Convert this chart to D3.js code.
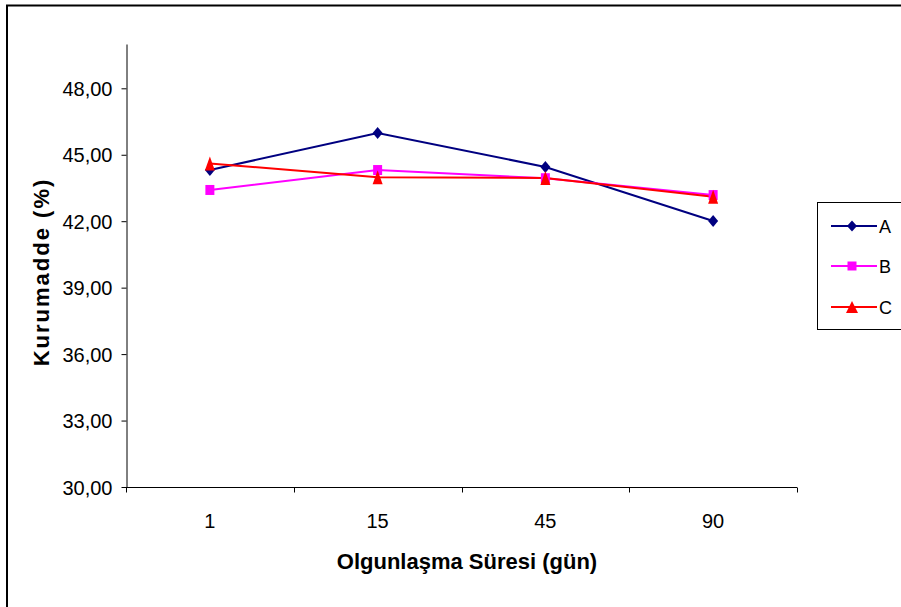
<!DOCTYPE html>
<html>
<head>
<meta charset="utf-8">
<script src="https://cdn.jsdelivr.net/npm/d3@7"></script>
<style>
  html, body { margin: 0; padding: 0; background: #fff; }
  svg { display: block; font-family: "Liberation Sans", Arial, sans-serif; }
</style>
</head>
<body>
<svg id="chart" width="901" height="607"></svg>
<script>
// Ripening time (days) and dry matter (%) for three cheese groups
const categories = ["1", "15", "45", "90"];
const seriesNames = ["A", "B", "C"];
const valuesA = [44.31, 45.98, 44.45, 42.01];
const valuesB = [43.41, 44.31, 43.94, 43.18];
const valuesC = [44.61, 43.98, 43.95, 43.10];
const yTicks = [30, 33, 36, 39, 42, 45, 48];
const colors = ["#000080", "#FF00FF", "#FF0000"];

// marker outlines, w x h box centred on the point
function diamond(w, h) {
  return `M0,${-h / 2}L${w / 2},0L0,${h / 2}L${-w / 2},0Z`;
}
function square(w, h) {
  return `M${-w / 2},${-h / 2}h${w}v${h}h${-w}Z`;
}
function triangle(w, h) {
  return `M0,${-h / 2}L${w / 2},${h / 2}L${-w / 2},${h / 2}Z`;
}

const series = [
  { name: seriesNames[0], values: valuesA, color: colors[0], marker: diamond(10, 12), legendMarker: diamond(10, 11) },
  { name: seriesNames[1], values: valuesB, color: colors[1], marker: square(9, 10), legendMarker: square(9, 9) },
  { name: seriesNames[2], values: valuesC, color: colors[2], marker: triangle(10, 14), legendMarker: triangle(12, 12) }
];

const svg = d3.select("#chart");

// outer frame (only top and left edges fall inside the window)
svg.append("rect")
  .attr("x", 7).attr("y", 5.5)
  .attr("width", 900).attr("height", 610)
  .attr("fill", "none").attr("stroke", "#000").attr("stroke-width", 2);

const plotLeft = 126, plotRight = 797, plotTop = 44, plotBottom = 487;

const x = d3.scaleBand().domain(categories).range([plotLeft, plotRight]);
const y = d3.scaleLinear().domain([30, 50]).range([plotBottom, plotTop]);

const tickFont = "'Liberation Sans Narrow', 'Arial Narrow', 'Liberation Sans', Arial, sans-serif";

// y axis
const yAxis = d3.axisLeft(y).tickValues(yTicks).tickSize(5).tickSizeOuter(0)
  .tickFormat(d => d3.format(".2f")(d).replace(".", ","));
const gy = svg.append("g").attr("transform", `translate(${plotLeft + 0.5},0)`).call(yAxis);
gy.select(".domain").attr("stroke", "#000");
gy.selectAll(".tick line").attr("stroke", "#000");
gy.selectAll(".tick text")
  .attr("font-size", 20).attr("fill", "#000").attr("x", -14).attr("dy", "0.36em")
  .attr("font-family", tickFont);

// x axis with ticks between categories
const gx = svg.append("g").attr("transform", `translate(0,${plotBottom + 0.5})`);
gx.append("line").attr("x1", plotLeft).attr("x2", plotRight).attr("stroke", "#000");
const boundaries = categories.map(c => x(c)).concat([plotRight]);
gx.selectAll("line.tk").data(boundaries).enter().append("line")
  .attr("class", "tk")
  .attr("x1", d => Math.round(d) + 0.5).attr("x2", d => Math.round(d) + 0.5)
  .attr("y1", 0).attr("y2", 5).attr("stroke", "#000");
gx.selectAll("text").data(categories).enter().append("text")
  .attr("x", d => x(d) + x.bandwidth() / 2)
  .attr("y", 40)
  .attr("text-anchor", "middle")
  .attr("font-size", 20)
  .attr("font-family", tickFont)
  .text(d => d);

// axis titles
svg.append("text")
  .attr("x", 467).attr("y", 569)
  .attr("text-anchor", "middle")
  .attr("font-size", 22).attr("font-weight", "bold")
  .text("Olgunlaşma Süresi (gün)");

svg.append("text")
  .attr("transform", "translate(49,272) rotate(-90)")
  .attr("text-anchor", "middle")
  .attr("font-size", 22).attr("font-weight", "bold")
  .attr("letter-spacing", 2)
  .text("Kurumadde (%)");

// lines and markers
const cx = (d, i) => x(categories[i]) + x.bandwidth() / 2;
const line = d3.line().x(cx).y(d => y(d));

series.forEach(s => {
  svg.append("path")
    .datum(s.values)
    .attr("d", line)
    .attr("fill", "none")
    .attr("stroke", s.color)
    .attr("stroke-width", 2);
});

series.forEach(s => {
  svg.append("g").selectAll("path").data(s.values).enter().append("path")
    .attr("d", s.marker)
    .attr("transform", (d, i) => `translate(${cx(d, i)},${y(d)})`)
    .attr("fill", s.color);
});

// legend
const lg = svg.append("g");
lg.append("rect")
  .attr("x", 817.5).attr("y", 202.5).attr("width", 90).attr("height", 127)
  .attr("fill", "#fff").attr("stroke", "#000").attr("stroke-width", 1);
const legendRows = [226, 266, 307];
series.forEach((s, i) => {
  const yy = legendRows[i];
  lg.append("line").attr("x1", 831).attr("x2", 877).attr("y1", yy).attr("y2", yy)
    .attr("stroke", s.color).attr("stroke-width", 2);
  lg.append("path")
    .attr("d", s.legendMarker)
    .attr("transform", `translate(852,${yy})`)
    .attr("fill", s.color);
  lg.append("text").attr("x", 879).attr("y", yy + 6.5)
    .attr("font-size", 18).text(s.name);
});
</script>
</body>
</html>
